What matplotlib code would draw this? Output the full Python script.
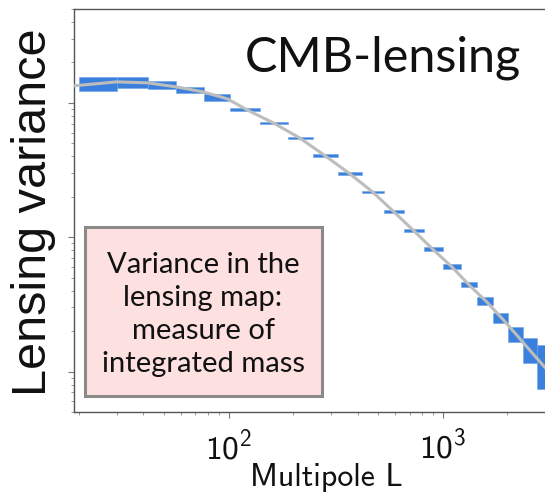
import numpy as np
import matplotlib
matplotlib.use("Agg")
import matplotlib.pyplot as plt
from matplotlib.patches import Rectangle

plt.rcParams['mathtext.fontset'] = 'custom'
plt.rcParams['mathtext.rm'] = 'cmss10'
plt.rcParams['mathtext.sf'] = 'cmss10'
plt.rcParams['mathtext.it'] = 'cmss10'

# Bin edges in multipole L, and measured lensing bandpowers (arbitrary units)
L_edges = np.array([20, 30, 42, 57, 77, 102, 141, 189, 247, 323, 418, 530,
                    658, 815, 1000, 1213, 1442, 1714, 2014, 2366, 2748, 3200])
band_val = np.array([1.396, 1.43, 1.365, 1.25, 1.10, 0.895, 0.709, 0.548,
                     0.406, 0.298, 0.217, 0.155, 0.112, 0.0814, 0.0603,
                     0.0443, 0.0334, 0.025, 0.019, 0.01465, 0.01155])
band_err = np.array([0.167, 0.135, 0.094, 0.065, 0.066, 0.023, 0.012, 0.009,
                     0.011, 0.008, 0.004, 0.004, 0.003, 0.0028, 0.0026,
                     0.0019, 0.0023, 0.0022, 0.0023, 0.003, 0.0041])

# Theory curve
curve_L = np.array([18.9, 30, 42, 57, 76, 99, 121, 162, 215, 281, 367, 471,
                    590, 731, 898, 1101, 1333, 1607, 1889, 2220, 2552, 3000, 3335])
curve_val = np.array([1.339, 1.434, 1.410, 1.316, 1.208, 1.071, 0.894, 0.709,
                      0.548, 0.406, 0.298, 0.217, 0.155, 0.112, 0.0814, 0.0603,
                      0.0438, 0.0329, 0.0249, 0.0186, 0.01436, 0.01072, 0.00889])

W, H = 545, 495
fig = plt.figure(figsize=(W / 100, H / 100), dpi=100)
ax = fig.add_axes([74 / W, 1 - 412 / H, (545 - 74) / W, (412 - 9) / H])

blue = '#3a80dc'
ax.bar(L_edges[:-1], 2 * band_err, width=np.diff(L_edges), bottom=band_val - band_err,
       align='edge', color=blue, edgecolor='#6fa3e6', linewidth=0.4, zorder=2)
ax.plot(curve_L, curve_val, color='#bdbdbd', lw=2.2, zorder=3)

ax.set_xscale('log')
ax.set_yscale('log')
ax.set_xlim(19, 3000)
ax.set_ylim(5e-3, 5)

for s in ['left', 'bottom', 'top']:
    ax.spines[s].set_color('#555555')
    ax.spines[s].set_linewidth(1.0)
ax.spines['right'].set_visible(False)

ax.set_xticks([100, 1000])
ax.set_xticklabels([r'$\mathrm{10^{2}}$', r'$\mathrm{10^{3}}$'], fontsize=24)
ax.tick_params(axis='x', which='major', direction='out', length=4, width=0.8,
               color='#777777', pad=9, labelcolor='#111111')
ax.tick_params(axis='x', which='minor', direction='out', length=2.5, width=0.6,
               color='#888888')
ax.tick_params(axis='y', which='major', direction='out', length=4, width=0.8,
               color='#777777', labelleft=False)
ax.tick_params(axis='y', which='minor', direction='out', length=2.5, width=0.6,
               color='#888888', labelleft=False)
ax.yaxis.set_minor_formatter(plt.NullFormatter())
ax.tick_params(right=False, top=False, which='both')

fig.text(34 / W, 1 - 212 / H, 'Lensing variance', rotation=90, ha='center',
         va='center', fontsize=35, family='Liberation Sans', color='#111111')
fig.text(326 / W, 1 - 478 / H, 'Multipole L', ha='center',
         va='center', fontsize=23, family='cmss10', color='#111111')

fig.text(245 / W, 1 - 72 / H, 'CMB-lensing', ha='left', va='baseline',
         fontsize=35, family='Lato', fontweight='normal', color='#111111')

# annotation box
x0, x1, y0, y1 = 84.5, 321.5, 227.5, 395.5
ax.add_patch(Rectangle((x0 / W, 1 - y1 / H), (x1 - x0) / W, (y1 - y0) / H,
                       transform=fig.transFigure, facecolor='#fde0e0',
                       edgecolor='#8a8a8a', linewidth=2.2, clip_on=False, zorder=5))
box_lines = ['Variance in the', 'lensing map:', 'measure of', 'integrated mass']
for i, line in enumerate(box_lines):
    fig.text((x0 + x1) / 2 / W, 1 - (273 + 33 * i) / H, line, ha='center',
             va='baseline', fontsize=21, family='Lato', color='#111111', zorder=6)

fig.savefig('out.png', dpi=100)
